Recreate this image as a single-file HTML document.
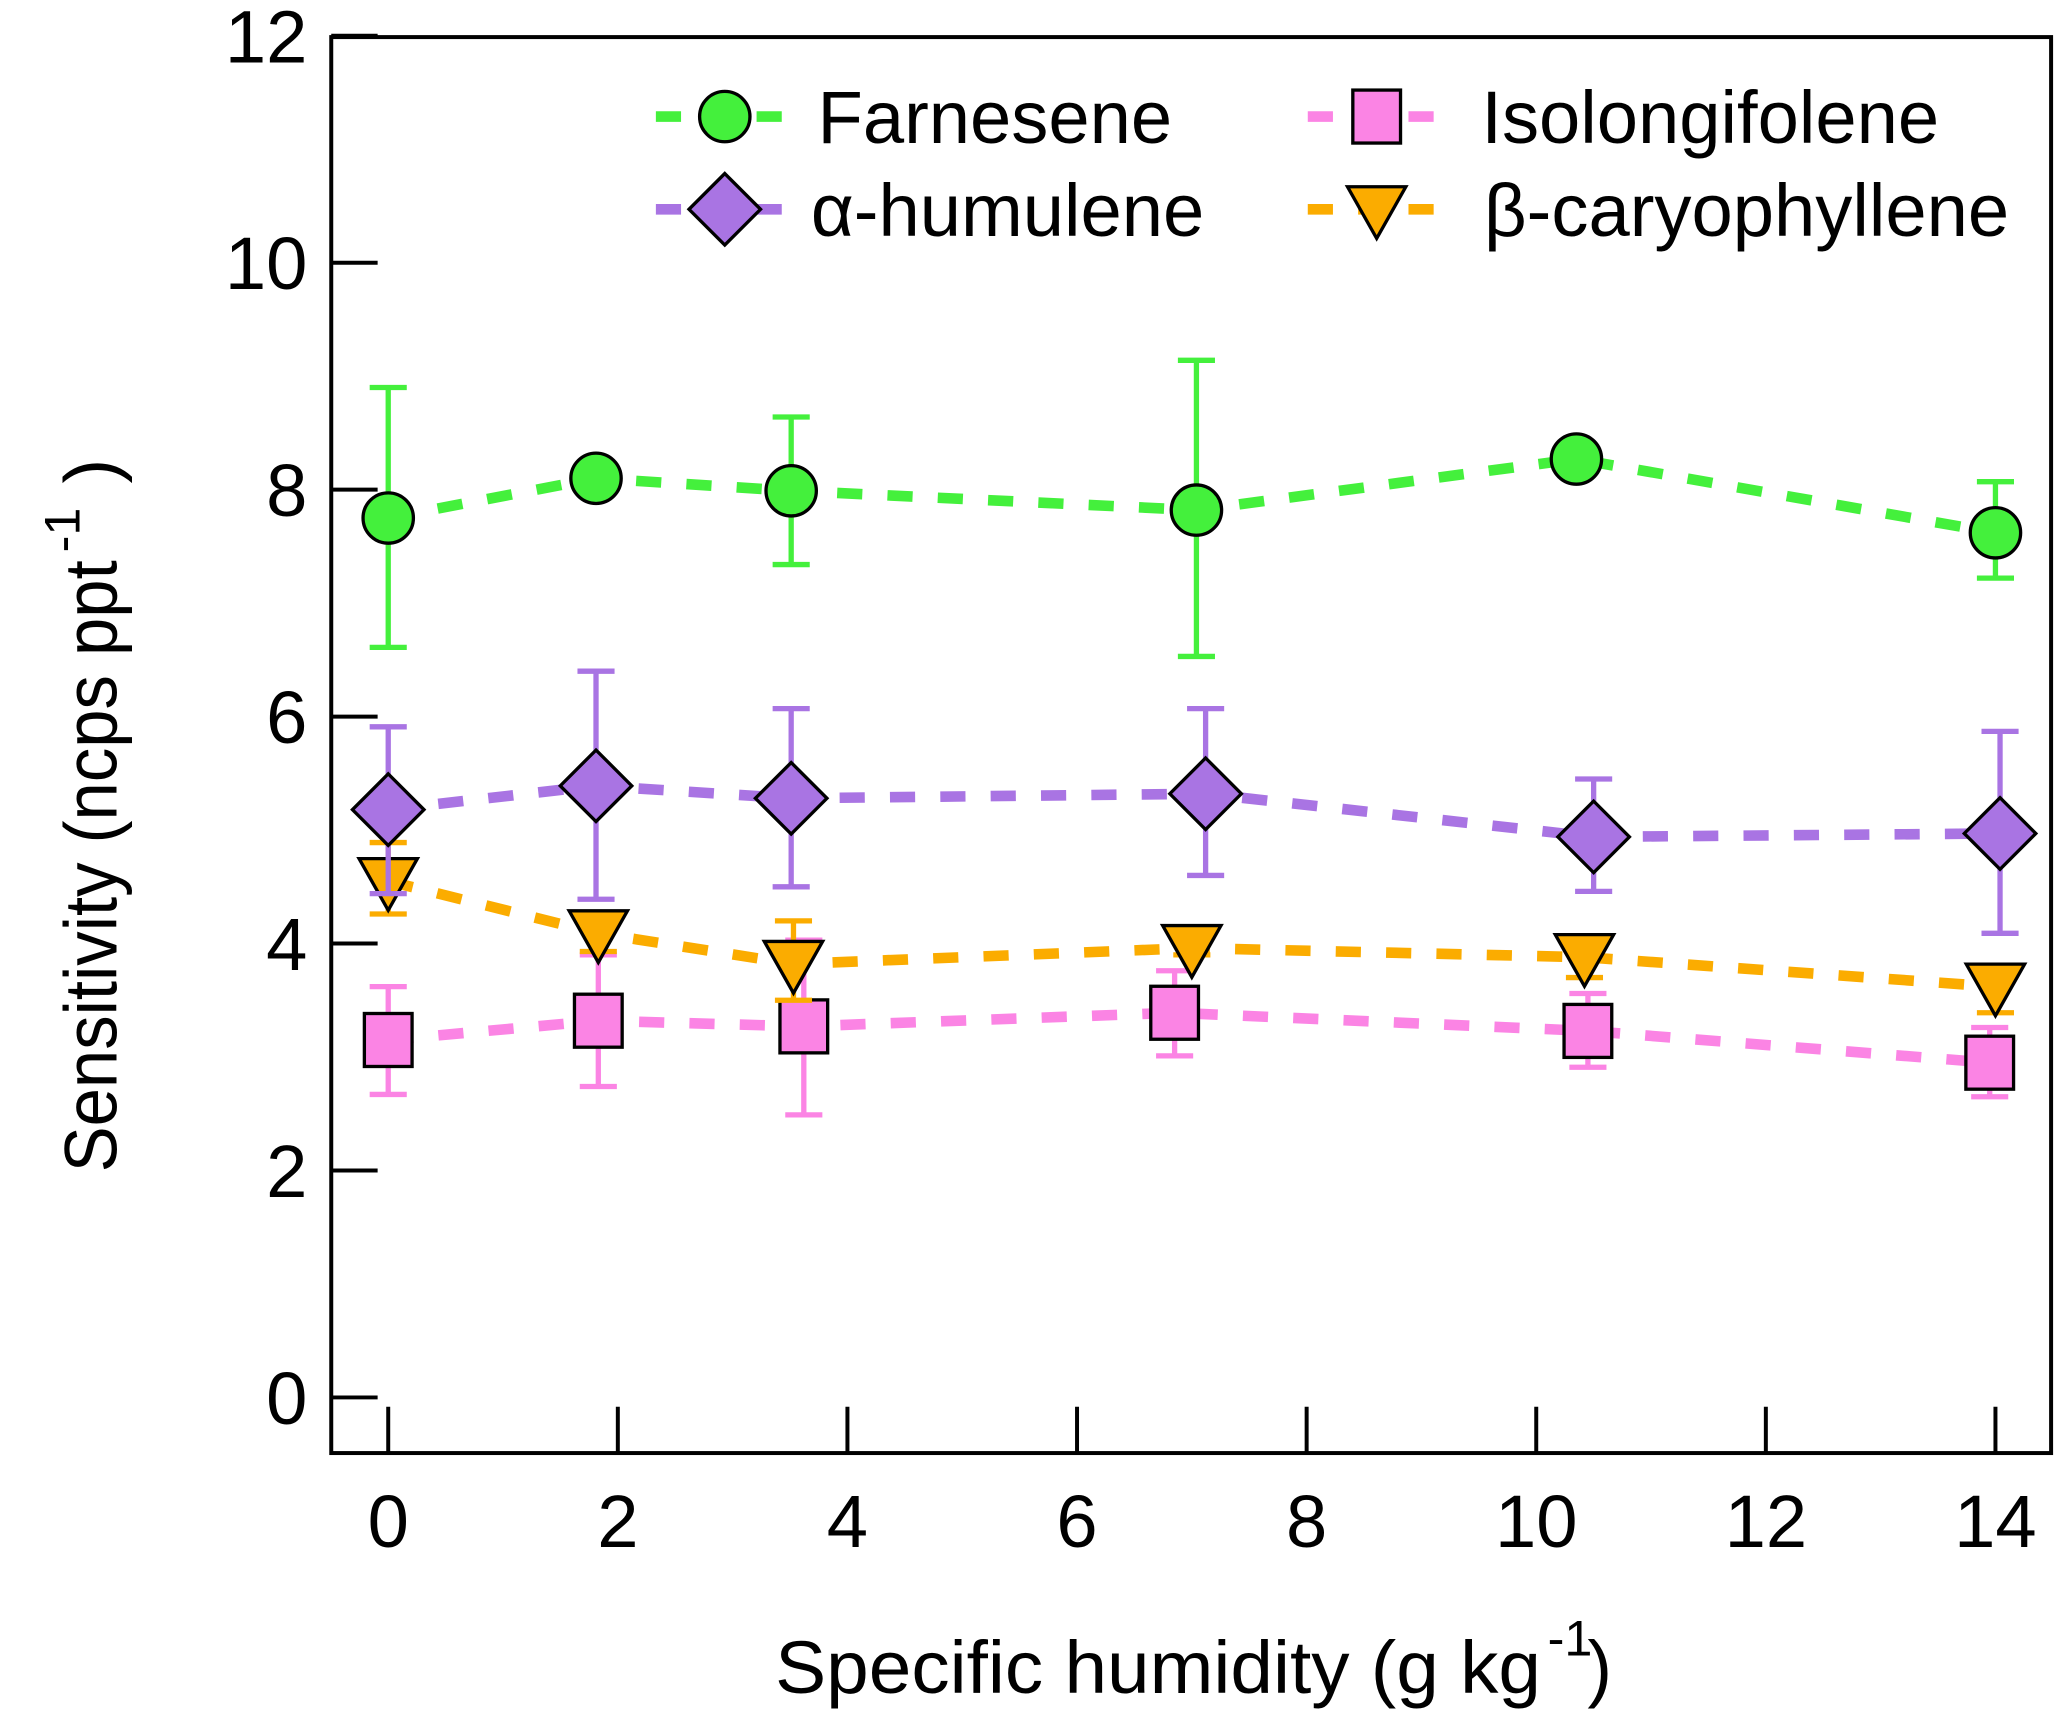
<!DOCTYPE html>
<html><head><meta charset="utf-8"><style>
html,body{margin:0;padding:0;background:#fff}
svg{display:block}
text{font-family:"Liberation Sans",Arial,sans-serif;fill:#000}
</style></head><body>
<svg id="chart" width="2067" height="1714" viewBox="0 0 1560 1294" preserveAspectRatio="none" xmlns="http://www.w3.org/2000/svg">
<g id="plot"></g>
</svg>
<script>
const xTicks = [0,2,4,6,8,10,12,14];
const yTicks = [0,2,4,6,8,10,12];
const farnX = [0,1.81,3.51,7.04,10.35,14.0];
const farnY = [7.75,8.10,7.99,7.82,8.27,7.62];
const farnHi = [8.90,null,8.64,9.14,null,8.07];
const farnLo = [6.61,null,7.34,6.53,null,7.22];
const humX = [0,1.81,3.51,7.12,10.5,14.04];
const humY = [5.18,5.39,5.28,5.32,4.94,4.97];
const humHi = [5.91,6.40,6.07,6.07,5.45,5.87];
const humLo = [4.44,4.39,4.50,4.60,4.46,4.09];
const caryX = [0,1.83,3.53,7.0,10.42,14.0];
const caryY = [4.55,4.09,3.82,3.96,3.88,3.62];
const caryHi = [4.89,4.25,4.20,4.00,4.02,3.79];
const caryLo = [4.26,3.93,3.50,3.90,3.70,3.39];
const isoX = [0,1.83,3.62,6.85,10.45,13.95];
const isoY = [3.15,3.32,3.27,3.39,3.23,2.95];
const isoHi = [3.62,3.90,4.03,3.76,3.56,3.26];
const isoLo = [2.67,2.74,2.49,3.01,2.91,2.65];

const NS='http://www.w3.org/2000/svg';
const g=document.getElementById('plot');
const xs=v=>293+v*(1506-293)/14;
const ys=v=>1055-v*(1055-27)/12;
function mk(tag,at,parent){const e=document.createElementNS(NS,tag);for(const k in at)e.setAttribute(k,at[k]);(parent||g).appendChild(e);return e;}

// frame
const fr=mk('rect',{x:250,y:28,width:1298,height:1069,fill:'none',stroke:'#000','stroke-width':3});


yTicks.forEach(t=>{
  const l=mk('line',{x1:250,x2:285,y1:ys(t),y2:ys(t),stroke:'#000','stroke-width':3});
  
  
  const tx=mk('text',{x:232,y:ys(t)+20,'text-anchor':'end','font-size':56});
  tx.textContent=t;
  
  
});
xTicks.forEach(t=>{
  const l=mk('line',{x1:xs(t),x2:xs(t),y1:1097,y2:1062,stroke:'#000','stroke-width':3});
  
  
  const tx=mk('text',{x:xs(t),y:1168,'text-anchor':'middle','font-size':56});
  tx.textContent=t;
  
  
});

function marker(shape,cx,cy,fill,parent){
  let e;
  if(shape==='circle') e=mk('ellipse',{cx,cy,rx:19,ry:19,fill,stroke:'#000','stroke-width':2.5},parent);
  else if(shape==='diamond') e=mk('polygon',{points:`${cx},${cy-27} ${cx+27},${cy} ${cx},${cy+27} ${cx-27},${cy}`,fill,stroke:'#000','stroke-width':2.5},parent);
  else if(shape==='square') e=mk('rect',{x:cx-18,y:cy-20,width:36,height:40,fill,stroke:'#000','stroke-width':2.5},parent);
  else e=mk('polygon',{points:`${cx-22},${cy-17} ${cx+22},${cy-17} ${cx},${cy+22}`,fill,stroke:'#000','stroke-width':2.5},parent);
  return e;
}
const series=[
  {name:'farnesene',X:farnX,Y:farnY,H:farnHi,L:farnLo,c:'#44f03c',shape:'circle'},
  {name:'alpha-humulene',X:humX,Y:humY,H:humHi,L:humLo,c:'#a974e3',shape:'diamond'},
  {name:'beta-caryophyllene',X:caryX,Y:caryY,H:caryHi,L:caryLo,c:'#fbac00',shape:'tri'},
  {name:'isolongifolene',X:isoX,Y:isoY,H:isoHi,L:isoLo,c:'#fb84e4',shape:'square'}
];
// draw in order: iso, cary, hum, farn so upper ones on top
[series[3],series[2],series[1],series[0]].forEach(s=>{
  const sg=mk('g',{});
  
  
  s.X.forEach((x,i)=>{
    if(s.H[i]==null) return;
    const cx=xs(x);
    const eb=mk('path',{d:`M${cx},${ys(s.H[i])}V${ys(s.L[i])}M${cx-14},${ys(s.H[i])}H${cx+14}M${cx-14},${ys(s.L[i])}H${cx+14}`,stroke:s.c,'stroke-width':4,fill:'none'},sg);
    
    
  });
  const ln=mk('polyline',{points:s.X.map((x,i)=>xs(x)+','+ys(s.Y[i])).join(' '),fill:'none',stroke:s.c,'stroke-width':8,'stroke-dasharray':'19 19'},sg);
  
  
  s.X.forEach((x,i)=>{
    const m=marker(s.shape,xs(x),ys(s.Y[i]),s.c,sg);
    
    
  });
});

// legend
const legend=[
  {s:series[0],x:495,y:88,label:'Farnesene',tx:617},
  {s:series[1],x:495,y:158,label:'α-humulene',tx:612},
  {s:series[3],x:987,y:88,label:'Isolongifolene',tx:1118},
  {s:series[2],x:987,y:158,label:'β-caryophyllene',tx:1120}
];
legend.forEach(e=>{
  const lg=mk('g',{});
  
  
  mk('line',{x1:e.x,x2:e.x+95,y1:e.y,y2:e.y,stroke:e.s.c,'stroke-width':8,'stroke-dasharray':'19 19'},lg);
  marker(e.s.shape,e.x+52,e.y,e.s.c,lg);
  const t=mk('text',{x:e.tx,y:e.y+20,'font-size':56},lg);
  t.textContent=e.label;
});
</script>
<svg style="position:absolute;left:0;top:0" width="2067" height="1714" viewBox="0 0 1560 1294" preserveAspectRatio="none" xmlns="http://www.w3.org/2000/svg">
<text x="585" y="1278" font-size="56" textLength="578" lengthAdjust="spacingAndGlyphs">Specific humidity (g kg</text>
<text x="1168" y="1250" font-size="38">-1</text>
<text x="1198" y="1278" font-size="56">)</text>
<g transform="translate(88,885) rotate(-90)">
<text x="0" y="0" font-size="56" textLength="462" lengthAdjust="spacingAndGlyphs">Sensitivity (ncps ppt</text>
<text x="468" y="-28" font-size="38">-1</text>
<text x="520" y="0" font-size="56">)</text>
</g>
</svg>
</body></html>
